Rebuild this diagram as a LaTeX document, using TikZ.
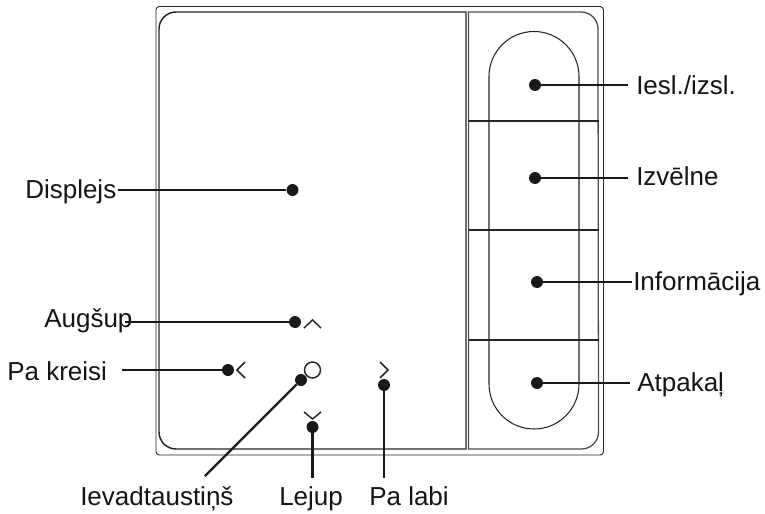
\documentclass[tikz,border=0pt]{standalone}
\usepackage{fontspec}
\setmainfont{Liberation Sans}
\begin{document}
\begin{tikzpicture}[x=0.75pt,y=-0.75pt,
  lbl/.style={inner sep=0pt,anchor=base west,font=\fontsize{19.5pt}{22pt}\selectfont,text=black!92},
  pin/.style={circle,fill=black!90,draw=none,minimum size=9pt,inner sep=0pt},
  lead/.style={draw=black!90,line width=1.7pt},
  thin/.style={draw=black!85,line width=0.7pt},
  mid/.style={draw=black!85,line width=0.95pt},
  key/.style={draw=black!85,line width=1.1pt}]
\useasboundingbox (0,0) rectangle (765,514);
% housing
\draw[thin,rounded corners=2.5pt] (156,6.5) rectangle (603.5,455);
\draw[draw=black!85,line width=1.1pt] (466,12) -- (176,12) arc[start angle=-90,end angle=-180,radius=17] -- (159,432) arc[start angle=180,end angle=90,radius=17] -- (466,449) -- cycle;
\draw[mid,draw=black!70] (468.5,12) -- (581,12) arc[start angle=-90,end angle=0,radius=17] -- (598.5,432) arc[start angle=0,end angle=90,radius=17] -- (468.5,449) -- cycle;
\draw[thin,line width=0.8pt] (489,76.5) arc[start angle=-180,end angle=0,radius=45] -- (579,384) arc[start angle=0,end angle=180,radius=45] -- cycle;
\draw[mid] (468.5,121) -- (598.5,121) (468.5,230) -- (598.5,230) (468.5,340) -- (598.5,340);
% keys
\draw[key] (304,328) -- (312.5,320) -- (321,328);
\draw[key] (245,362) -- (237,370) -- (245,378);
\draw[key] (380,362) -- (388,370) -- (380,378);
\draw[key] (304,412) -- (312.5,419) -- (321,412);
\node[circle,draw=black!85,line width=1.1pt,minimum size=12pt,inner sep=0pt] (enter) at (312.5,370) {};
% pins
\node[pin] (p1) at (535,85) {};
\node[pin] (p2) at (535,178) {};
\node[pin] (p3) at (537,282) {};
\node[pin] (p4) at (537,383) {};
\node[pin] (p5) at (292.5,190) {};
\node[pin] (p6) at (295,322) {};
\node[pin] (p7) at (228,370) {};
\node[pin] (p8) at (301,380) {};
\node[pin] (p9) at (312.5,427) {};
\node[pin] (p10) at (384,385) {};
% labels
\node[lbl] (l1) at (636,94.5) {Iesl./izsl.};
\node[lbl] (l2) at (636,185) {Izvēlne};
\node[lbl] (l3) at (633,290.5) {Informācija};
\node[lbl] (l4) at (637,391) {Atpakaļ};
\node[lbl] (l5) at (25,198.5) {Displejs};
\node[lbl] (l6) at (44,327.5) {Augšup};
\node[lbl] (l7) at (7,380.5) {Pa kreisi};
\node[lbl] (l8) at (80,505.5) {Ievadtaustiņš};
\node[lbl] (l9) at (279,505.5) {Lejup};
\node[lbl] (l10) at (369,505.5) {Pa labi};
% connector ends
\coordinate (e1) at (628,85);
\coordinate (e2) at (628,178);
\coordinate (e3) at (632,282);
\coordinate (e4) at (630,383);
\coordinate (e5) at (118,190);
\coordinate (e6) at (125,322);
\coordinate (e7) at (122,370);
\coordinate (e8) at (205,476);
\coordinate (e9) at (312.5,478);
\coordinate (e10) at (384,478);
\draw[lead] (p1) -- (e1);
\draw[lead] (p2) -- (e2);
\draw[lead] (p3) -- (e3);
\draw[lead] (p4) -- (e4);
\draw[lead] (p5) -- (e5);
\draw[lead] (p6) -- (e6);
\draw[lead] (p7) -- (e7);
\draw[lead] (p8) -- (e8);
\draw[lead] (p9) -- (e9);
\draw[lead] (p10) -- (e10);
\end{tikzpicture}
\end{document}
